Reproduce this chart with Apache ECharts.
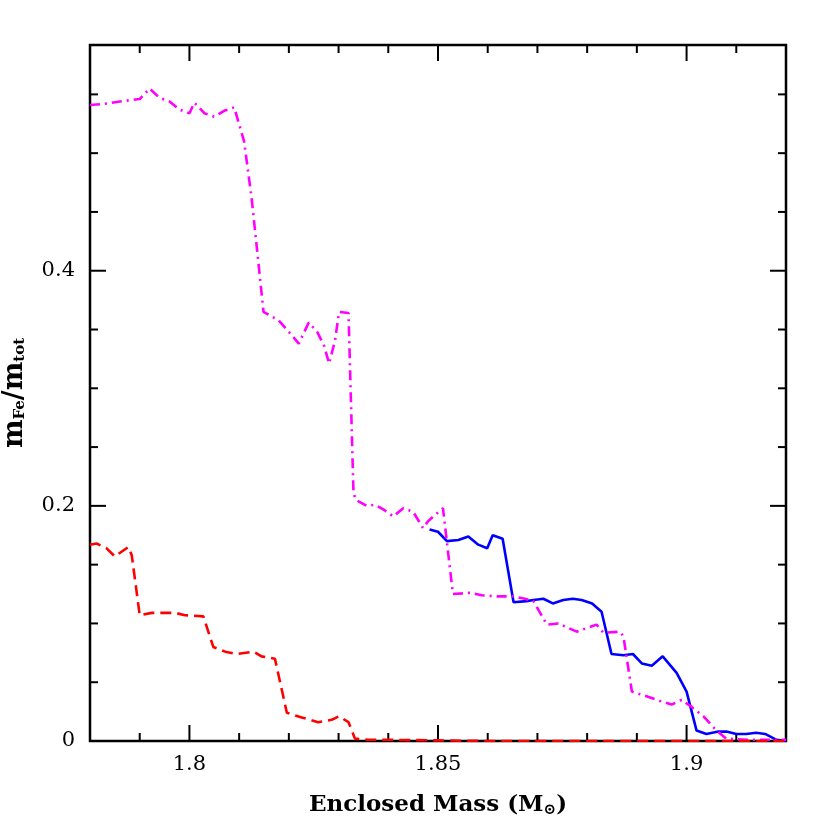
<!DOCTYPE html>
<html>
<head>
<meta charset="utf-8">
<script src="https://cdn.jsdelivr.net/npm/echarts@6/dist/echarts.min.js"></script>
<style>html,body{margin:0;padding:0;background:#fff}#c{width:830px;height:830px}</style>
</head>
<body>
<div id="c"></div>
<script>
// Data
const magentaX = [1.78,1.783,1.786,1.790,1.792,1.794,1.796,1.798,1.800,1.801,1.803,1.805,1.807,1.809,1.811,1.8125,1.8138,1.8149,1.8179,1.8202,1.822,1.824,1.8257,1.8271,1.8281,1.8293,1.8301,1.832,1.833,1.8335,1.8357,1.8373,1.839,1.841,1.843,1.845,1.847,1.848,1.851,1.853,1.8564,1.8588,1.8618,1.8651,1.8675,1.8692,1.8719,1.8742,1.8779,1.8799,1.8819,1.8833,1.8866,1.8873,1.889,1.8913,1.8947,1.897,1.899,1.901,1.9034,1.906,1.908,1.912,1.916,1.92];
const magentaY = [0.541,0.542,0.544,0.546,0.555,0.547,0.544,0.537,0.534,0.543,0.534,0.531,0.536,0.539,0.510,0.462,0.41,0.365,0.358,0.347,0.338,0.356,0.348,0.336,0.321,0.341,0.365,0.364,0.211,0.205,0.200,0.201,0.197,0.191,0.198,0.195,0.181,0.187,0.198,0.125,0.126,0.124,0.123,0.123,0.121,0.119,0.099,0.100,0.093,0.096,0.099,0.092,0.093,0.089,0.042,0.039,0.034,0.031,0.035,0.029,0.021,0.009,0.002,0.001,0.001,0.001];

const blueX = [1.8483,1.850,1.8518,1.8541,1.8561,1.8581,1.8599,1.861,1.863,1.8652,1.8678,1.8692,1.8712,1.8731,1.8752,1.8771,1.8789,1.881,1.8829,1.8849,1.8873,1.8892,1.891,1.893,1.8952,1.898,1.900,1.902,1.904,1.9064,1.908,1.910,1.912,1.914,1.9158,1.9181,1.92];
const blueY = [0.180,0.178,0.170,0.171,0.174,0.167,0.164,0.175,0.172,0.118,0.119,0.120,0.121,0.117,0.120,0.121,0.120,0.117,0.110,0.074,0.073,0.074,0.066,0.064,0.072,0.058,0.042,0.009,0.006,0.008,0.008,0.006,0.006,0.007,0.006,0.001,0.0];

const redX = [1.78,1.7813,1.7833,1.785,1.7877,1.7884,1.790,1.7924,1.7971,1.7991,1.8028,1.8048,1.8072,1.8095,1.8129,1.8145,1.8172,1.8196,1.8226,1.8259,1.8286,1.8301,1.832,1.8333,1.836,1.84,1.85,1.86,1.92];
const redY = [0.167,0.168,0.164,0.157,0.165,0.158,0.107,0.109,0.109,0.107,0.106,0.080,0.076,0.074,0.076,0.072,0.070,0.024,0.020,0.016,0.018,0.021,0.016,0.002,0.001,0.001,0.0005,0,0];

// Tick positions and labels
const xMajor = [1.8, 1.85, 1.9];
const xMinor = [1.79, 1.81, 1.82, 1.83, 1.84, 1.86, 1.87, 1.88, 1.89, 1.91];
const yMajor = [0.2, 0.4];
const yMinor = [0.05, 0.1, 0.15, 0.25, 0.3, 0.35, 0.45, 0.5, 0.55];
const xLabelValues = [1.8, 1.85, 1.9];
const yLabelValues = [0, 0.2, 0.4];
const xLabelText = {'1.8':'1.8','1.85':'1.85','1.9':'1.9'};
const yLabelText = {'0':'0','0.2':'0.2','0.4':'0.4'};

const X_MIN = 1.78, X_MAX = 1.92, Y_MIN = 0, Y_MAX = 0.592;
const GRID = {left: 90, right: 44, top: 45, bottom: 89};
const W = 830, H = 830;
const PLOT_W = W - GRID.left - GRID.right, PLOT_H = H - GRID.top - GRID.bottom;
const MAJOR_LEN = 16, MINOR_LEN = 8;   // tick lengths in pixels

const zip = (a, b) => a.map((v, i) => [v, b[i]]);
const FONT = '"DejaVu Serif"';

// tick length converted to data units of the perpendicular axis
const dy = px => px * (Y_MAX - Y_MIN) / PLOT_H;
const dx = px => px * (X_MAX - X_MIN) / PLOT_W;

function tickLine(data) {
  return {type: 'line', data: data, silent: true, symbol: 'none', showSymbol: false,
          lineStyle: {color: '#000', width: 2}, z: 1, animation: false, clip: false};
}
const tickSeries = [];
function addX(values, len) {
  values.forEach(v => {
    tickSeries.push(tickLine([[v, Y_MIN], [v, Y_MIN + dy(len)]]));
    tickSeries.push(tickLine([[v, Y_MAX], [v, Y_MAX - dy(len)]]));
  });
}
function addY(values, len) {
  values.forEach(v => {
    tickSeries.push(tickLine([[X_MIN, v], [X_MIN + dx(len), v]]));
    tickSeries.push(tickLine([[X_MAX, v], [X_MAX - dx(len), v]]));
  });
}
addX(xMinor, MINOR_LEN);
addX(xMajor, MAJOR_LEN);
addY(yMinor, MINOR_LEN);
addY(yMajor, MAJOR_LEN);

const chart = echarts.init(document.getElementById('c'), null, {renderer: 'canvas'});
chart.setOption({
  animation: false,
  backgroundColor: '#fff',
  grid: {left: GRID.left, right: GRID.right, top: GRID.top, bottom: GRID.bottom, containLabel: false, outerBoundsMode: 'none',
         show: true, borderColor: '#000', borderWidth: 2.5, backgroundColor: 'transparent'},
  xAxis: {
    type: 'value', min: X_MIN, max: X_MAX, interval: 0.01,
    axisLine: {show: false}, axisTick: {show: false}, splitLine: {show: false},
    axisLabel: {show: true, customValues: xLabelValues, margin: 13, color: '#000', fontFamily: FONT, fontSize: 21,
      formatter: v => xLabelText[String(+v.toFixed(2))] || ''},
    name: 'Enclosed Mass (M{sub|⊙})', nameLocation: 'middle', nameGap: 52,
    nameTextStyle: {color: '#000', fontFamily: FONT, fontSize: 23, fontWeight: 'bold',
      rich: {sub: {fontFamily: FONT, fontSize: 15, fontWeight: 'bold', verticalAlign: 'bottom', padding: [10,0,0,0]}}}
  },
  yAxis: {
    type: 'value', min: Y_MIN, max: Y_MAX, interval: 0.05,
    axisLine: {show: false}, axisTick: {show: false}, splitLine: {show: false},
    axisLabel: {show: true, customValues: yLabelValues, margin: 15, color: '#000', fontFamily: FONT, fontSize: 21,
      formatter: v => yLabelText[String(+v.toFixed(2))] || ''},
    name: 'm{sub|Fe}/m{sub|tot}', nameLocation: 'middle', nameGap: 62, nameRotate: 90,
    nameTextStyle: {color: '#000', fontFamily: FONT, fontSize: 27, fontWeight: 'bold',
      rich: {sub: {fontFamily: FONT, fontSize: 15, fontWeight: 'bold', verticalAlign: 'bottom', padding: [12,0,0,0]}}}
  },
  series: tickSeries.concat([
    {type: 'line', data: zip(blueX, blueY), showSymbol: false, symbol: 'none',
     lineStyle: {color: '#0000ff', width: 2.6}, z: 3},
    {type: 'line', data: zip(magentaX, magentaY), showSymbol: false, symbol: 'none',
     lineStyle: {color: '#ff00ff', width: 2.6, type: [10, 5, 2, 5]}, z: 4},
    {type: 'line', data: zip(redX, redY), showSymbol: false, symbol: 'none',
     lineStyle: {color: '#ff0000', width: 2.6, type: [11, 6]}, z: 5}
  ])
});
</script>
</body>
</html>
